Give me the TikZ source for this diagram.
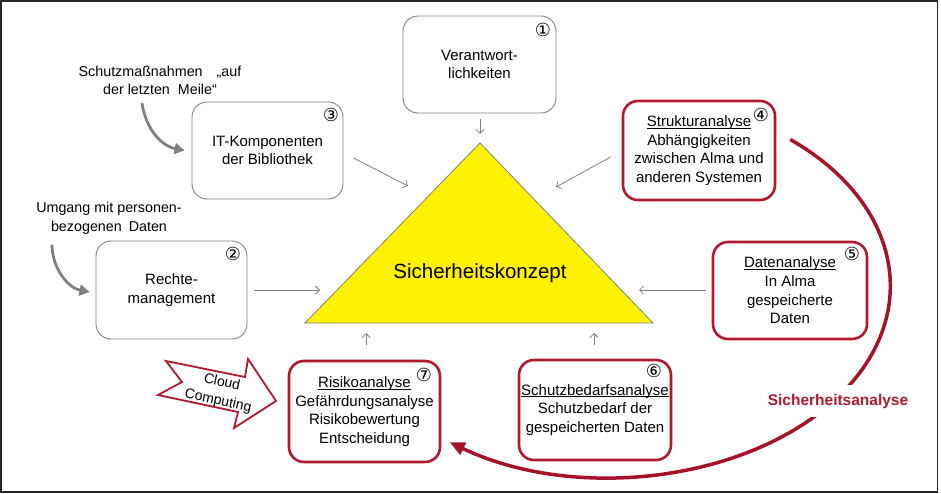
\documentclass[tikz,border=0pt]{standalone}
\usepackage{fontspec}
\setmainfont{Liberation Sans}
\newfontfamily\numfont{DejaVu Sans}
\usetikzlibrary{arrows.meta,calc}
\definecolor{dred}{RGB}{166,18,40}
\definecolor{bred}{RGB}{178,24,46}
\definecolor{lgray}{RGB}{128,128,128}
\newcommand\boxfont{\fontsize{15}{18.7}\selectfont}
\newcommand\lblfont{\fontsize{14.3}{18.5}\selectfont}
\newcommand\ulx[1]{\underline{\raisebox{0pt}[\height][0pt]{#1}}}
\begin{document}
\begin{tikzpicture}[x=1pt,y=-1pt,
  box/.style={draw=lgray, line width=0.9, rounded corners=15, minimum width=151, minimum height=97, align=center, font=\boxfont, inner sep=0},
  rbox/.style={box, draw=bred, line width=2.6},
  num/.style={font=\numfont\fontsize{18}{18}\selectfont, inner sep=0},
  lbl/.style={align=center, font=\lblfont, inner sep=0},
  thinarr/.style={draw=lgray, line width=0.8, -{Straight Barb[length=4,width=8]}},
  thickarr/.style={draw=lgray, line width=2.8, -{Triangle[length=10,width=11]}},
  redarc/.style={draw=dred, line width=3.5, -{Triangle[length=15,width=13]}},
]
\useasboundingbox (0,0) rectangle (941,494);
\draw[black!85, line width=1.3] (1,1) rectangle (937.5,492);

% triangle
\coordinate (tA) at (480,143);
\coordinate (tL) at (305,323);
\coordinate (tR) at (653,323);
\filldraw[fill=yellow, draw=lgray, line width=0.8] (tA) -- (tL) -- (tR) -- cycle;
\node[font=\fontsize{20.5}{24}\selectfont, inner sep=0] (tk) at (480,273) {Sicherheitskonzept};

% boxes
\node[box, minimum width=153] (b1) at (479.5,64.5) {Verantwort-\\lichkeiten};
\node[box] (b3) at (267.5,150.5) {IT-Komponenten\\der Bibliothek};
\node[box, minimum height=98] (b2) at (171.5,290) {Rechte-\\management};
\node[rbox, minimum width=152, minimum height=99] (b4) at (699,150.5) {\ulx{Strukturanalyse}\\Abhängigkeiten\\zwischen Alma und\\anderen Systemen};
\node[rbox, minimum width=154] (b5) at (790,290.5) {\ulx{Datenanalyse}\\In Alma\\gespeicherte\\Daten};
\node[rbox, minimum width=152, minimum height=100] (b6) at (595,410) {\ulx{Schutzbedarfsanalyse}\\Schutzbedarf der\\gespeicherten Daten};
\node[rbox, minimum height=101] (b7) at (364.5,411.5) {\ulx{Risikoanalyse}\\Gefährdungsanalyse\\Risikobewertung\\Entscheidung};

% numbers
\node[num] (n1) at (543,30) {①};
\node[num] (n3) at (331,115) {③};
\node[num] (n2) at (233,254) {②};
\node[num] (n4) at (761,115) {④};
\node[num] (n5) at (852,254) {⑤};
\node[num] (n6) at (654,371) {⑥};
\node[num] (n7) at (424,375) {⑦};

% thin arrows to triangle
\coordinate (e1) at (480,134);
\coordinate (e3) at (408,186);
\coordinate (e4) at (556,187);
\coordinate (e2) at (320,290);
\coordinate (e5) at (639,290);
\coordinate (e7) at (366,333);
\coordinate (e6) at (594,333);
\draw[thinarr] ($(b1.south)+(0.5,6)$) -- (e1);
\draw[thinarr] ($(b3.east)+(10,7.5)$) -- (e3);
\draw[thinarr] ($(b4.west)+(-11,6.5)$) -- (e4);
\draw[thinarr] ($(b2.east)+(7,0)$) -- (e2);
\draw[thinarr] ($(b5.west)+(-6,-0.5)$) -- (e5);
\draw[thinarr] ($(b7.north)+(1.5,-15)$) -- (e7);
\draw[thinarr] ($(b6.north)+(-1,-14)$) -- (e6);

% side labels
\node[lbl] (l1) at (160,80.5) {Schutzmaßnahmen\hspace{14pt}„auf\\der letzten\hspace{4pt} Meile“};
\node[lbl] (l2) at (109,218.5) {Umgang mit personen-\\bezogenen\hspace{3pt} Daten};
\draw[thickarr] ($(l1.south)+(-18,8)$) .. controls (146,130) and (162,146) .. ($(b3.west)+(-7,0)$);
\draw[thickarr] ($(l2.south)+(-57,10)$) .. controls (52,268) and (68,288) .. ($(b2.west)+(-6,2)$);

% cloud computing arrow
\draw[bred, line width=1.8, fill=white, line join=miter]
  (166,361) -- (245,377) -- (248,359) -- (276,401) -- (234,428) -- (238,412) -- (158,395) -- (182,382) -- cycle;
\node[font=\fontsize{14}{19}\selectfont, align=center, rotate=-12, inner sep=0] (cc) at (220,392) {Cloud\\Computing};

% red arc
\coordinate (ar0) at ($(b4.east)+(14,-11)$);
\draw[redarc] (ar0) arc[start angle=-50, end angle=125, x radius=280, y radius=191];
\node[font=\bfseries\fontsize{15.5}{18}\selectfont, text=bred, fill=white, inner xsep=1, inner ysep=9] (sa) at (838,401) {Sicherheitsanalyse};
\end{tikzpicture}
\end{document}
